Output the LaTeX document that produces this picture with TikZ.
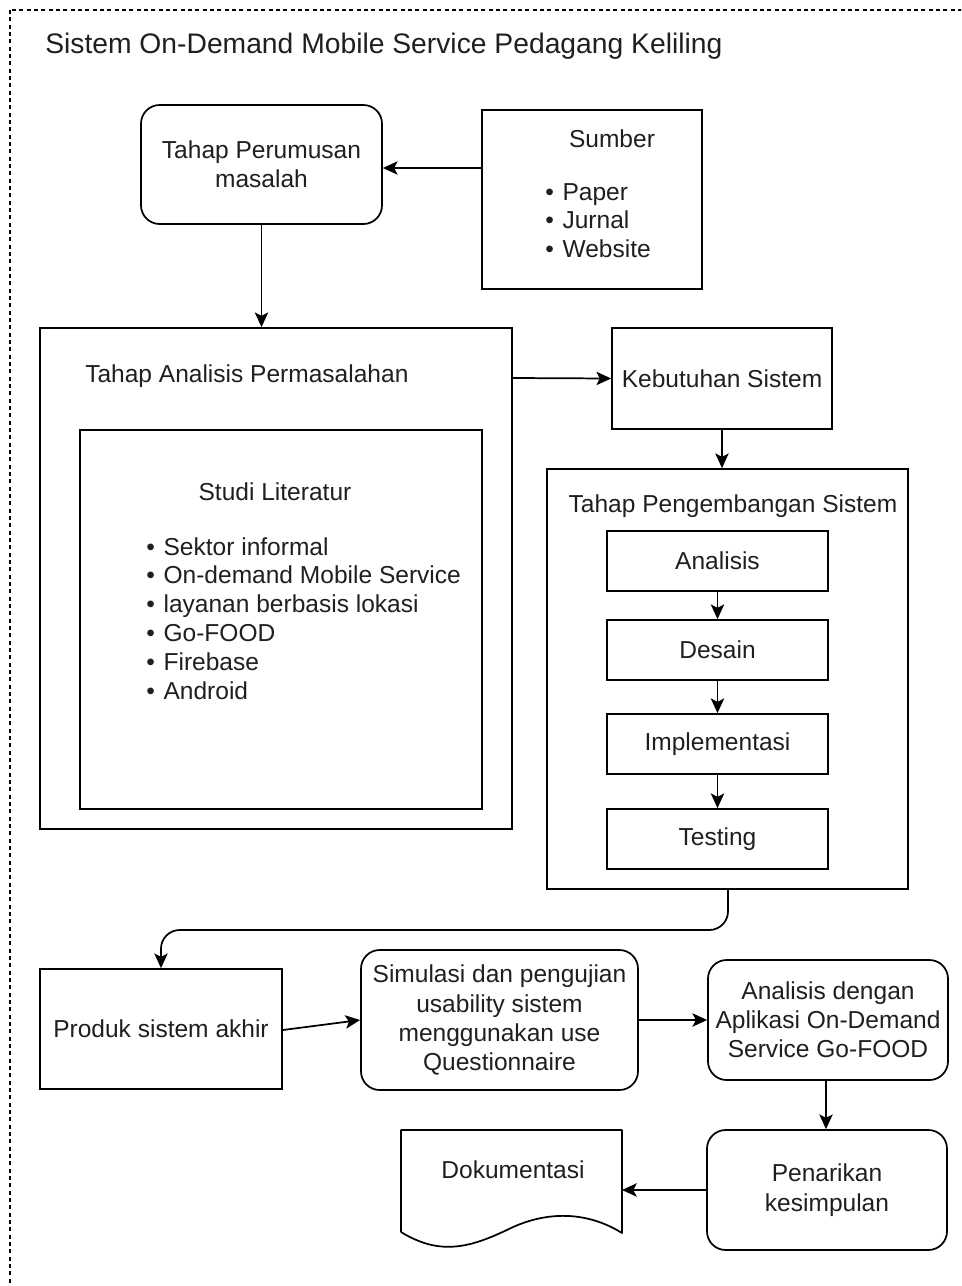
\documentclass[tikz,border=0pt]{standalone}
\usepackage{fontspec}
\setmainfont{Liberation Sans}
\usetikzlibrary{arrows.meta}
\newcommand\bul{\makebox[13pt][l]{•}}
\begin{document}
\begin{tikzpicture}[x=0.75pt,y=-0.75pt,
  box/.style={draw, line width=1.3pt, rectangle, inner sep=0pt, align=center,
    font=\fontsize{18.4}{22}\selectfont, text=black!88},
  rbox/.style={box, rounded corners=14pt},
  txt/.style={inner sep=0pt, font=\fontsize{18.4}{21.6}\selectfont, text=black!88},
  arr/.style={-{Stealth[length=11pt,width=10pt,inset=2.5pt]}, line width=1.3pt},
]
\useasboundingbox (0,0) rectangle (961,1286);
\begin{scope}
\clip (0,0) rectangle (961,1286);
\draw[line width=1.1pt, dash pattern=on 3pt off 2.5pt] (10,10) rectangle (990,1310);
\end{scope}

% title
\node[txt, anchor=west, font=\fontsize{21.2}{24}\selectfont] (title) at (45,46) {Sistem On-Demand Mobile Service Pedagang Keliling};

% top row
\node[rbox, minimum width=241*0.75pt, minimum height=119*0.75pt] (perum) at (261.5,164.5) {Tahap Perumusan\\masalah};
\node[box, minimum width=220*0.75pt, minimum height=179*0.75pt] (sumber) at (592,199.5) {};
\node[txt] (sumbert) at (612,139) {Sumber};
\node[txt, anchor=north west, align=left] (sumberl) at (545,183) {\bul Paper\\\bul Jurnal\\\bul Website};

% analysis container
\node[box, minimum width=472*0.75pt, minimum height=501*0.75pt] (anal) at (276,578.5) {};
\node[txt, anchor=west] (analt) at (85,376) {Tahap Analisis Permasalahan};
\node[box, minimum width=402*0.75pt, minimum height=379*0.75pt] (studi) at (281,619.5) {};
\node[txt] (studit) at (275,492) {Studi Literatur};
\node[txt, anchor=north west, align=left] (studil) at (146,537) {\bul Sektor informal\\\bul On-demand Mobile Service\\\bul layanan berbasis lokasi\\\bul Go-FOOD\\\bul Firebase\\\bul Android};

% kebutuhan
\node[box, minimum width=220*0.75pt, minimum height=101*0.75pt] (kebut) at (722,378.5) {Kebutuhan Sistem};

% pengembangan container
\node[box, minimum width=361*0.75pt, minimum height=420*0.75pt] (peng) at (727.5,679) {};
\node[txt] (pengt) at (733,506) {Tahap Pengembangan Sistem};
\node[box, minimum width=221*0.75pt, minimum height=60*0.75pt] (s1) at (717.5,561) {Analisis};
\node[box, minimum width=221*0.75pt, minimum height=60*0.75pt] (s2) at (717.5,650) {Desain};
\node[box, minimum width=221*0.75pt, minimum height=60*0.75pt] (s3) at (717.5,744) {Implementasi};
\node[box, minimum width=221*0.75pt, minimum height=60*0.75pt] (s4) at (717.5,839) {Testing};

% bottom row
\node[box, minimum width=242*0.75pt, minimum height=120*0.75pt] (produk) at (161,1029) {Produk sistem akhir};
\node[rbox, minimum width=277*0.75pt, minimum height=140*0.75pt, font=\fontsize{18.4}{21.8}\selectfont] (simul) at (499.5,1020) {Simulasi dan pengujian\\usability sistem\\menggunakan use\\Questionnaire};
\node[rbox, minimum width=240*0.75pt, minimum height=120*0.75pt, font=\fontsize{18.4}{21.8}\selectfont] (goan) at (828,1020) {Analisis dengan\\Aplikasi On-Demand\\Service Go-FOOD};
\node[rbox, minimum width=240*0.75pt, minimum height=120*0.75pt, font=\fontsize{18.4}{23}\selectfont] (penar) at (827,1190) {Penarikan\\kesimpulan};

% document shape
\coordinate (dA) at (401,1130);
\coordinate (dB) at (622,1130);
\coordinate (dC) at (622,1233);
\coordinate (dD) at (401,1232);
\draw[line width=1.3pt, line join=round] (dD) -- (dA) -- (dB) -- (dC)
  .. controls (585,1210) and (545,1212) .. (511,1228)
  .. controls (470,1248) and (440,1256) .. (dD);
\node[txt] (dokt) at (513,1170) {Dokumentasi};
\coordinate (dokR) at (622,1190);

% connectors
\draw[arr] (sumber.west |- 0,168) -- (perum.east |- 0,168);
\draw[arr] (perum.south) -- (anal.north -| perum.south);
\draw[arr] (anal.east |- 0,378) -- (kebut.west);
\draw[arr] (kebut.south) -- (peng.north -| kebut.south);
\draw[arr] (s1) -- (s2);
\draw[arr] (s2) -- (s3);
\draw[arr] (s3) -- (s4);
\coordinate (c1) at (728,930);
\draw[arr, rounded corners=14pt] (peng.south -| c1) -- (c1) -- (c1 -| produk.north) -- (produk.north);
\draw[arr] (produk.east |- 0,1030) -- (simul.west);
\draw[arr] (simul.east) -- (goan.west);
\draw[arr] (goan.south -| 826,0) -- (penar.north -| 826,0);
\draw[arr] (penar.west) -- (dokR);
\end{tikzpicture}
\end{document}
